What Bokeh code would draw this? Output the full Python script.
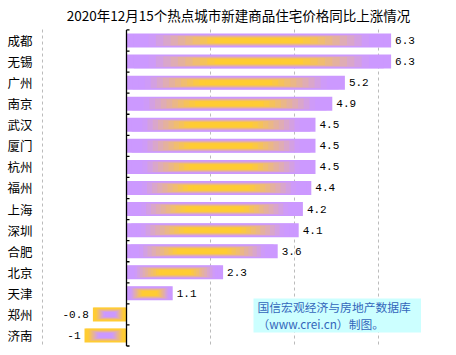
import numpy as np
from bokeh.plotting import figure
from bokeh.models import Range1d, FixedTicker, ColumnDataSource
from bokeh.core.properties import value
from bokeh.embed import file_html
from bokeh.resources import INLINE

# ---- data ----
cities = ["成都", "无锡", "广州", "南京", "武汉", "厦门", "杭州", "福州",
          "上海", "深圳", "合肥", "北京", "天津", "郑州", "济南"]
changes = [6.3, 6.3, 5.2, 4.9, 4.5, 4.5, 4.5, 4.4, 4.2, 4.1, 3.6, 2.3, 1.1, -0.8, -1]
value_labels = ["6.3", "6.3", "5.2", "4.9", "4.5", "4.5", "4.5", "4.4", "4.2",
                "4.1", "3.6", "2.3", "1.1", "-0.8", "-1"]
grid_values = [-2, 2, 4, 6]
title_text = "2020年12月15个热点城市新建商品住宅价格同比上涨情况"
note_lines = ["国信宏观经济与房地产数据库", "（www.crei.cn）制图。"]

# ---- layout constants ----
PX_PER_UNIT = 42.0
ROW_PX = 21.07
FRAME_LEFT = 41
W, H = 456, 355
ROW0_PX = 40.0
y_top = -ROW0_PX / ROW_PX
y_bottom = (H - ROW0_PX) / ROW_PX
x_start = -(126 - FRAME_LEFT) / PX_PER_UNIT
x_end = x_start + (W - FRAME_LEFT) / PX_PER_UNIT

def px_to_y(py):
    return py / ROW_PX + y_top

def px_to_x(px):
    return (px - 126) / PX_PER_UNIT

p = figure(width=W, height=H, x_range=Range1d(x_start, x_end),
           y_range=Range1d(y_bottom, y_top),
           x_axis_location=None, y_axis_location="left",
           output_backend="svg", toolbar_location=None,
           min_border_left=FRAME_LEFT, min_border_right=0,
           min_border_top=0, min_border_bottom=0)
p.outline_line_color = None
p.xgrid.visible = False
p.ygrid.visible = False
p.background_fill_color = "white"
p.border_fill_color = "white"

# category axis
yax = p.yaxis[0]
yax.ticker = FixedTicker(ticks=list(range(len(cities))))
yax.major_label_overrides = {i: c for i, c in enumerate(cities)}
yax.axis_line_color = None
yax.major_tick_line_color = None
yax.minor_tick_line_color = None
yax.major_tick_out = 0
yax.major_tick_in = 0
yax.major_label_standoff = 9
yax.major_label_text_font = "Noto Sans CJK SC"
yax.major_label_text_font_size = "12.5px"
yax.major_label_text_color = "black"

n = len(cities)
ys = list(range(n))

# gridlines
p.segment(x0=grid_values, x1=grid_values, y0=[-0.52] * len(grid_values),
          y1=[n - 0.5] * len(grid_values), line_color="#BBBBBB",
          line_dash="3 3", line_width=1)

# gradient bars (nested rectangles)
PURPLE = np.array([204, 153, 255], dtype=float)
YELLOW = np.array([255, 204, 51], dtype=float)
BAR_H = 0.664
N = 18
src = dict(y=[], left=[], right=[], height=[], color=[])
for i, v in enumerate(changes):
    edge, core = (PURPLE, YELLOW) if v > 0 else (YELLOW, PURPLE)
    c = v / 2.0
    L = abs(v)
    for k in range(N):
        f = k / N
        t = min(max((f - 0.15) / 0.5, 0.0), 1.0)
        col = edge + (core - edge) * t
        w = L * (1 - f)
        src["y"].append(i)
        src["left"].append(c - w / 2)
        src["right"].append(c + w / 2)
        src["height"].append(BAR_H * (1 - f))
        src["color"].append("#%02x%02x%02x" % tuple(int(round(x)) for x in col))
p.hbar(y="y", left="left", right="right", height="height", fill_color="color",
       line_color=None, source=ColumnDataSource(src))

# zero axis line and ticks
bounds = [i - 0.5 for i in range(n + 1)]
p.segment(x0=[0], x1=[0], y0=[-0.5], y1=[n - 0.5], line_color="black", line_width=1.3)
p.segment(x0=[0] * len(bounds), x1=[3 / PX_PER_UNIT] * len(bounds), y0=bounds, y1=bounds,
          line_color="black", line_width=1.3)

# value labels
pos = [i for i, v in enumerate(changes) if v >= 0]
neg = [i for i, v in enumerate(changes) if v < 0]
p.text(x=[changes[i] for i in pos], y=[ys[i] for i in pos], text=[value_labels[i] for i in pos],
       x_offset=4, text_align="left", text_baseline="middle",
       text_font=value("Liberation Mono"), text_font_size="11px", text_color="black")
p.text(x=[changes[i] for i in neg], y=[ys[i] for i in neg], text=[value_labels[i] for i in neg],
       x_offset=-4, text_align="right", text_baseline="middle",
       text_font=value("Liberation Mono"), text_font_size="11px", text_color="black")

# note box
p.quad(left=[px_to_x(253)], right=[px_to_x(420.5)], top=[px_to_y(298)], bottom=[px_to_y(332)],
       fill_color="#CCFFFF", line_color=None)
p.text(x=[px_to_x(257)] * 2, y=[px_to_y(306), px_to_y(322.5)], text=note_lines,
       text_align="left", text_baseline="middle",
       text_font=value("Noto Sans CJK SC"), text_font_size="11.8px", text_color="#3366BB")

# title
p.text(x=[px_to_x(238)], y=[px_to_y(14.7)], text=[title_text],
       text_align="center", text_baseline="middle",
       text_font=value("Noto Sans CJK SC"), text_font_size="13.5px", text_color="black")

open("out.html", "w").write(file_html(p, INLINE))
